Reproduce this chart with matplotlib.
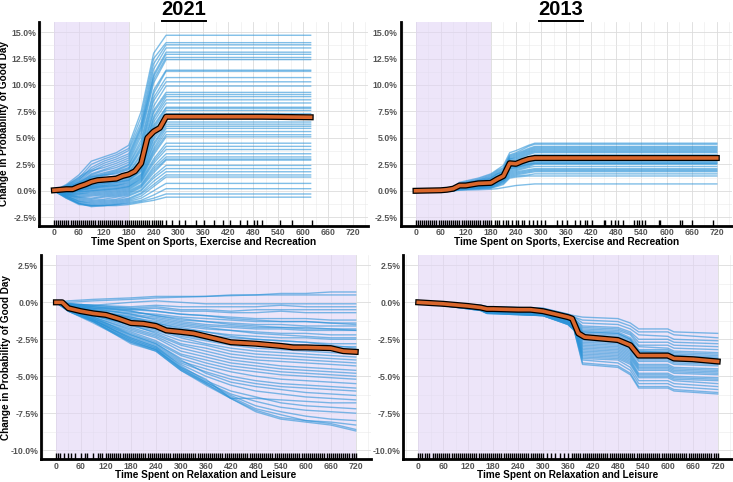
import matplotlib
matplotlib.use("Agg")
import matplotlib.pyplot as plt
import matplotlib.patheffects as pe
from matplotlib.lines import Line2D
from matplotlib.ticker import FuncFormatter, MultipleLocator

plt.rcParams["font.family"] = ["Liberation Sans", "DejaVu Sans"]

# ---------------- data ----------------
years = ["2021", "2013"]
sports_label = "Time Spent on Sports, Exercise and Recreation"
leisure_label = "Time Spent on Relaxation and Leisure"
ylabel = "Change in Probability of Good Day"

# 2021, sports: ICE curves at these minutes, flat after the last knot
sp21_knots = [0, 30, 60, 90, 120, 150, 180, 210, 240, 270]
sp21_end = 618
sp21_curves = [
    [0, 0.6, 1.5, 2.8, 3.2, 3.6, 4.3, 7.5, 13.0, 14.7],
    [0, 0.5, 1.2, 2.5, 3.0, 3.4, 4.0, 7.0, 12.5, 14.0],
    [0, 0.4, 1.0, 2.2, 2.8, 3.2, 3.8, 6.5, 12.0, 13.8],
    [0, 0.5, 1.3, 2.0, 2.6, 3.0, 3.5, 6.2, 11.5, 13.5],
    [0, 0.3, 0.9, 1.8, 2.4, 2.8, 3.3, 6.0, 11.0, 13.1],
    [0, 0.4, 1.1, 1.9, 2.2, 2.6, 3.1, 5.8, 10.8, 12.9],
    [0, 0.3, 0.8, 1.6, 2.0, 2.4, 2.9, 5.5, 10.5, 12.6],
    [0, 0.2, 0.7, 1.5, 1.9, 2.2, 2.7, 5.2, 10.2, 12.4],
    [0, 0.3, 0.8, 1.4, 1.7, 2.0, 2.5, 4.8, 9.5, 11.4],
    [0, 0.2, 0.6, 1.3, 1.6, 1.9, 2.4, 4.5, 9.2, 11.3],
    [0, 0.2, 0.7, 1.2, 1.5, 1.8, 2.2, 4.2, 8.8, 10.7],
    [0, 0.1, 0.5, 1.1, 1.4, 1.7, 2.1, 4.0, 8.5, 10.3],
    [0, 0.2, 0.6, 1.3, 1.5, 1.6, 2.0, 3.8, 8.0, 9.9],
    [0, 0.1, 0.4, 1.0, 1.2, 1.4, 1.8, 3.5, 7.6, 9.3],
    [0, 0.2, 0.5, 0.9, 1.1, 1.3, 1.7, 3.3, 7.4, 9.1],
    [0, 0.1, 0.3, 0.8, 1.0, 1.2, 1.6, 3.0, 7.0, 8.9],
    [0, 0.0, 0.4, 0.9, 1.1, 1.2, 1.5, 2.9, 6.8, 8.6],
    [0, 0.1, 0.3, 0.7, 0.9, 1.1, 1.4, 2.7, 6.5, 8.3],
    [0, 0.0, 0.2, 0.6, 0.8, 1.0, 1.3, 2.5, 6.2, 7.9],
    [0, 0.1, 0.3, 0.8, 0.9, 1.0, 1.3, 2.4, 6.0, 7.8],
    [0, 0.0, 0.2, 0.5, 0.7, 0.9, 1.2, 2.3, 5.8, 7.6],
    [0, -0.1, 0.1, 0.5, 0.7, 0.8, 1.1, 2.1, 5.5, 7.3],
    [0, 0.0, 0.2, 0.4, 0.6, 0.8, 1.0, 2.0, 5.3, 7.1],
    [0, -0.1, 0.1, 0.4, 0.5, 0.7, 1.0, 1.9, 5.0, 6.8],
    [0, 0.0, 0.1, 0.3, 0.5, 0.6, 0.9, 1.8, 4.8, 6.5],
    [0, -0.1, 0.0, 0.3, 0.4, 0.5, 0.8, 1.6, 4.5, 6.3],
    [0, -0.1, 0.1, 0.2, 0.4, 0.5, 0.7, 1.5, 4.3, 6.1],
    [0, -0.2, 0.0, 0.2, 0.3, 0.4, 0.6, 1.4, 4.0, 5.9],
    [0, -0.1, -0.1, 0.1, 0.2, 0.3, 0.5, 1.3, 3.8, 5.6],
    [0, -0.2, -0.1, 0.0, 0.1, 0.2, 0.4, 1.2, 3.6, 5.3],
    [0, -0.2, -0.2, 0.0, 0.1, 0.2, 0.4, 1.1, 3.4, 5.1],
    [0, -0.2, -0.3, -0.1, 0.0, 0.1, 0.3, 1.0, 3.0, 4.5],
    [0, -0.3, -0.3, -0.2, -0.1, 0.0, 0.2, 0.9, 2.8, 4.2],
    [0, -0.3, -0.4, -0.3, -0.2, -0.1, 0.1, 0.8, 2.6, 3.9],
    [0, -0.3, -0.5, -0.4, -0.3, -0.2, 0.0, 0.6, 2.3, 3.5],
    [0, -0.4, -0.6, -0.5, -0.4, -0.3, -0.1, 0.5, 2.1, 3.2],
    [0, -0.3, -0.6, -0.7, -0.5, -0.4, -0.2, 0.4, 1.9, 3.0],
    [0, -0.4, -0.7, -0.8, -0.6, -0.5, -0.3, 0.3, 1.7, 2.9],
    [0, -0.4, -0.8, -0.9, -0.8, -0.6, -0.4, 0.1, 1.4, 2.4],
    [0, -0.5, -0.9, -1.0, -0.9, -0.8, -0.5, 0.0, 1.2, 2.1],
    [0, -0.5, -1.0, -1.1, -1.0, -0.9, -0.7, -0.2, 0.9, 1.8],
    [0, -0.5, -1.0, -1.2, -1.1, -1.0, -0.8, -0.3, 0.6, 1.5],
    [0, -0.6, -1.1, -1.3, -1.2, -1.1, -0.9, -0.5, 0.4, 1.3],
    [0, -0.6, -1.2, -1.4, -1.3, -1.2, -1.0, -0.7, 0.0, 0.7],
    [0, -0.6, -1.2, -1.4, -1.4, -1.3, -1.1, -0.9, -0.4, 0.2],
    [0, -0.7, -1.2, -1.5, -1.4, -1.3, -1.2, -1.0, -0.7, -0.3],
    [0, -0.7, -1.3, -1.4, -1.4, -1.4, -1.3, -1.1, -0.9, -0.6],
]
sp21_pdp_x = [0, 15, 30, 45, 60, 75, 90, 105, 120, 135, 150, 165, 180, 195,
              210, 225, 240, 255, 270, 500, 618]
sp21_pdp_y = [0.05, 0.1, 0.15, 0.15, 0.4, 0.6, 0.85, 1.0, 1.05, 1.1, 1.15, 1.4,
              1.55, 1.85, 2.6, 5.0, 5.6, 5.95, 7.0, 7.0, 6.95]
sp21_rug = [0, 5, 10, 15, 20, 25, 30, 35, 40, 45, 50, 55, 60, 65, 70, 75, 80,
            85, 90, 95, 100, 105, 110, 115, 120, 125, 130, 135, 140, 145, 150,
            155, 160, 165, 170, 175, 180, 185, 190, 195, 200, 205, 210, 215,
            220, 225, 230, 235, 240, 245, 250, 255, 260, 270, 285, 300, 315,
            341, 362, 386, 406, 423, 449, 465, 482, 488, 502, 544, 573, 622]

# 2013, sports
sp13_knots = [0, 60, 90, 105, 150, 180, 195, 210, 225, 240, 270, 285]
sp13_end = 720
sp13_curves = [
    [0, 0.05, 0.3, 0.8, 1.2, 1.6, 2.0, 2.4, 3.6, 3.8, 4.3, 4.5],
    [0, 0.05, 0.3, 0.7, 1.1, 1.5, 1.9, 2.2, 3.4, 3.6, 4.2, 4.4],
    [0, 0.04, 0.25, 0.7, 1.0, 1.4, 1.8, 2.1, 3.3, 3.5, 4.0, 4.2],
    [0, 0.04, 0.25, 0.6, 1.0, 1.3, 1.7, 2.0, 3.2, 3.4, 3.9, 4.1],
    [0, 0.03, 0.2, 0.6, 0.9, 1.2, 1.6, 1.9, 3.1, 3.3, 3.8, 4.0],
    [0, 0.02, 0.2, 0.6, 0.9, 1.2, 1.6, 1.8, 3.0, 3.2, 3.7, 3.9],
    [0, 0.03, 0.2, 0.6, 0.9, 1.1, 1.5, 1.8, 3.0, 3.1, 3.6, 3.8],
    [0, 0.03, 0.2, 0.5, 0.8, 1.0, 1.4, 1.7, 2.9, 3.0, 3.5, 3.7],
    [0, 0.02, 0.2, 0.5, 0.8, 1.0, 1.3, 1.6, 2.8, 2.9, 3.4, 3.6],
    [0, 0.02, 0.15, 0.5, 0.7, 0.9, 1.2, 1.5, 2.7, 2.8, 3.2, 3.4],
    [0, 0.02, 0.15, 0.5, 0.7, 0.9, 1.2, 1.5, 2.6, 2.7, 3.1, 3.3],
    [0, 0.01, 0.15, 0.45, 0.65, 0.85, 1.15, 1.45, 2.6, 2.7, 3.1, 3.2],
    [0, 0.02, 0.15, 0.4, 0.6, 0.8, 1.1, 1.4, 2.5, 2.6, 3.0, 3.2],
    [0, 0.01, 0.1, 0.4, 0.6, 0.8, 1.1, 1.4, 2.5, 2.5, 2.9, 3.1],
    [0, 0.01, 0.1, 0.4, 0.6, 0.7, 1.0, 1.3, 2.4, 2.4, 2.8, 3.0],
    [0, 0.01, 0.1, 0.35, 0.55, 0.7, 1.0, 1.3, 2.3, 2.4, 2.8, 3.0],
    [0, 0.01, 0.1, 0.4, 0.5, 0.7, 1.0, 1.3, 2.3, 2.3, 2.7, 2.9],
    [0, 0.01, 0.1, 0.3, 0.5, 0.6, 0.9, 1.2, 2.2, 2.3, 2.6, 2.8],
    [0, 0.0, 0.1, 0.3, 0.5, 0.6, 0.9, 1.2, 2.1, 2.2, 2.5, 2.7],
    [0, 0.0, 0.1, 0.3, 0.45, 0.6, 0.85, 1.15, 2.1, 2.2, 2.5, 2.6],
    [0, 0.0, 0.05, 0.3, 0.4, 0.5, 0.8, 1.1, 2.0, 2.1, 2.4, 2.6],
    [0, 0.0, 0.05, 0.3, 0.4, 0.5, 0.8, 1.1, 1.9, 2.0, 2.3, 2.5],
    [0, 0.0, 0.05, 0.2, 0.3, 0.5, 0.7, 1.0, 1.8, 1.9, 2.2, 2.3],
    [0, 0.0, 0.05, 0.2, 0.3, 0.4, 0.7, 1.0, 1.7, 1.8, 2.0, 2.1],
    [0, 0.0, 0.0, 0.2, 0.3, 0.4, 0.6, 0.9, 1.6, 1.7, 1.9, 2.0],
    [0, 0.0, 0.0, 0.2, 0.3, 0.4, 0.6, 0.9, 1.5, 1.6, 1.8, 1.9],
    [0, 0.0, 0.0, 0.15, 0.25, 0.3, 0.5, 0.8, 1.4, 1.5, 1.7, 1.8],
    [0, 0.0, 0.0, 0.1, 0.2, 0.3, 0.5, 0.7, 1.3, 1.4, 1.5, 1.6],
    [0, 0.0, 0.0, 0.1, 0.2, 0.25, 0.4, 0.6, 1.2, 1.3, 1.4, 1.4],
    [0, 0.0, 0.0, 0.05, 0.1, 0.15, 0.2, 0.3, 0.4, 0.5, 0.6, 0.65],
]
sp13_pdp_x = [0, 60, 75, 90, 105, 120, 150, 180, 195, 210, 225, 240, 255, 270,
              285, 720]
sp13_pdp_y = [0.0, 0.05, 0.1, 0.2, 0.5, 0.5, 0.7, 0.75, 1.1, 1.4, 2.6, 2.55,
              2.8, 3.0, 3.1, 3.1]
sp13_rug = [0, 5, 10, 15, 20, 25, 30, 35, 40, 45, 50, 55, 60, 65, 70, 75, 80,
            85, 90, 95, 100, 105, 110, 115, 120, 125, 130, 135, 140, 145, 150,
            155, 160, 165, 170, 175, 180, 190, 195, 200, 210, 215, 220, 230,
            240, 245, 255, 260, 270, 280, 290, 300, 310, 338, 350, 362, 382,
            394, 404, 410, 422, 450, 454, 466, 477, 485, 497, 521, 529, 533,
            541, 549, 581, 585, 633, 637, 661, 712]

# 2021, relaxation and leisure
le_knots = [0, 30, 90, 180, 240, 300, 360, 420, 480, 540, 600, 660, 720]
le21_curves = [
    [0, 0.1, 0.2, 0.3, 0.4, 0.4, 0.4, 0.5, 0.5, 0.6, 0.6, 0.7, 0.7],
    [0, 0.0, 0.1, 0.2, 0.3, 0.35, 0.4, 0.45, 0.5, 0.5, 0.5, 0.5, 0.5],
    [0, -0.1, -0.2, 0.0, 0.1, 0.0, -0.1, -0.1, -0.1, -0.1, -0.1, -0.1, -0.1],
    [0, -0.1, -0.2, -0.3, -0.2, -0.3, -0.3, -0.3, -0.3, -0.2, -0.3, -0.3, -0.3],
    [0, -0.1, -0.3, -0.4, -0.3, -0.5, -0.5, -0.6, -0.5, -0.5, -0.5, -0.5, -0.5],
    [0, -0.2, -0.4, -0.5, -0.4, -0.6, -0.6, -0.7, -0.7, -0.6, -0.7, -0.7, -0.7],
    [0, -0.2, -0.3, -0.5, -0.6, -0.8, -0.9, -1.0, -1.1, -1.1, -1.1, -1.2, -1.2],
    [0, -0.2, -0.5, -0.7, -0.8, -1.0, -1.1, -1.2, -1.3, -1.3, -1.3, -1.4, -1.4],
    [0, -0.1, -0.2, -0.4, -0.6, -0.8, -0.9, -1.1, -1.2, -1.3, -1.3, -1.4, -1.5],
    [0, -0.1, -0.4, -0.6, -0.9, -1.1, -1.3, -1.4, -1.5, -1.5, -1.6, -1.6, -1.6],
    [0, -0.2, -0.5, -0.8, -1.0, -1.3, -1.5, -1.6, -1.7, -1.7, -1.8, -1.8, -1.8],
    [0, -0.1, -0.3, -0.6, -0.9, -1.2, -1.3, -1.5, -1.6, -1.7, -1.7, -1.8, -1.9],
    [0, -0.2, -0.6, -0.9, -1.1, -1.4, -1.6, -1.7, -1.8, -1.8, -1.9, -1.9, -1.9],
    [0, -0.3, -0.6, -1.0, -1.3, -1.6, -1.8, -1.9, -2.0, -2.1, -2.1, -2.2, -2.2],
    [0, -0.2, -0.4, -0.8, -1.2, -1.5, -1.7, -1.9, -2.1, -2.2, -2.3, -2.4, -2.4],
    [0, -0.2, -0.5, -1.1, -1.4, -1.8, -2.0, -2.2, -2.3, -2.4, -2.4, -2.5, -2.5],
    [0, -0.3, -0.7, -1.2, -1.5, -1.9, -2.2, -2.4, -2.5, -2.6, -2.7, -2.8, -2.8],
    [0, -0.3, -0.6, -1.1, -1.6, -2.0, -2.3, -2.6, -2.7, -2.8, -2.9, -3.0, -3.0],
    [0, -0.2, -0.6, -1.0, -1.4, -1.7, -2.0, -2.3, -2.5, -2.6, -2.7, -2.9, -3.1],
    [0, -0.3, -0.8, -1.3, -1.7, -2.1, -2.4, -2.7, -2.8, -2.9, -3.0, -3.1, -3.2],
    [0, -0.2, -0.7, -1.2, -1.8, -2.2, -2.5, -2.8, -2.9, -3.0, -3.1, -3.2, -3.3],
    [0, -0.3, -0.8, -1.4, -1.8, -2.3, -2.6, -2.9, -3.1, -3.2, -3.3, -3.4, -3.5],
    [0, -0.4, -0.9, -1.5, -1.9, -2.4, -2.8, -3.1, -3.3, -3.4, -3.5, -3.6, -3.7],
    [0, -0.3, -0.8, -1.6, -2.0, -2.6, -2.9, -3.3, -3.5, -3.6, -3.7, -3.8, -3.9],
    [0, -0.4, -0.9, -1.5, -2.1, -2.8, -3.1, -3.5, -3.7, -3.8, -3.9, -4.0, -4.1],
    [0, -0.3, -0.9, -1.7, -2.2, -2.9, -3.3, -3.7, -3.9, -4.0, -4.1, -4.2, -4.3],
    [0, -0.4, -1.0, -1.8, -2.3, -3.1, -3.5, -3.9, -4.1, -4.3, -4.4, -4.5, -4.6],
    [0, -0.4, -1.0, -1.9, -2.4, -3.3, -3.7, -4.1, -4.3, -4.5, -4.6, -4.7, -4.8],
    [0, -0.5, -1.1, -2.0, -2.6, -3.5, -3.9, -4.3, -4.5, -4.7, -4.8, -4.9, -5.0],
    [0, -0.4, -1.1, -2.1, -2.7, -3.6, -4.1, -4.5, -4.7, -4.9, -5.0, -5.1, -5.2],
    [0, -0.5, -1.2, -2.2, -2.8, -3.8, -4.3, -4.7, -5.0, -5.2, -5.3, -5.4, -5.5],
    [0, -0.5, -1.1, -2.3, -2.9, -4.0, -4.5, -5.0, -5.3, -5.5, -5.6, -5.7, -5.8],
    [0, -0.5, -1.2, -2.4, -3.0, -4.1, -4.7, -5.2, -5.5, -5.7, -5.8, -5.9, -6.0],
    [0, -0.4, -1.0, -2.2, -2.8, -3.9, -4.8, -5.4, -5.7, -5.9, -6.1, -6.2, -6.3],
    [0, -0.5, -1.2, -2.5, -3.1, -4.2, -5.0, -5.6, -6.0, -6.2, -6.4, -6.5, -6.6],
    [0, -0.5, -1.3, -2.6, -3.2, -4.4, -5.2, -6.5, -6.5, -6.6, -6.7, -6.8, -6.8],
    [0, -0.5, -1.2, -2.4, -3.0, -4.3, -5.3, -6.0, -6.4, -6.8, -7.0, -7.1, -7.2],
    [0, -0.6, -1.3, -2.6, -3.2, -4.5, -5.4, -6.2, -6.7, -7.1, -7.3, -7.4, -7.5],
    [0, -0.5, -1.2, -2.5, -3.1, -4.4, -5.4, -6.3, -7.0, -7.4, -7.7, -7.9, -8.0],
    [0, -0.6, -1.3, -2.7, -3.3, -4.6, -5.5, -6.4, -7.2, -7.6, -8.0, -8.1, -8.3],
    [0, -0.6, -1.4, -2.7, -3.2, -4.5, -5.5, -6.5, -7.3, -7.8, -8.0, -8.2, -8.6],
    [0, -0.6, -1.3, -2.8, -3.3, -4.6, -5.6, -6.5, -7.4, -7.9, -8.1, -8.3, -8.7],
]
le21_pdp_x = [0, 15, 30, 45, 60, 90, 120, 150, 180, 210, 240, 265, 300, 330,
              360, 390, 420, 480, 540, 570, 600, 660, 690, 720]
le21_pdp_y = [0.0, 0.0, -0.4, -0.5, -0.6, -0.75, -0.85, -1.1, -1.4, -1.45,
              -1.6, -1.9, -2.0, -2.1, -2.3, -2.5, -2.7, -2.8, -2.95, -3.05,
              -3.05, -3.1, -3.3, -3.35]

# 2013, relaxation and leisure
le13_knots = [0, 150, 165, 300, 360, 375, 395, 480, 510, 530, 600, 615, 720]
le13_curves = [
    [0, -0.2, -0.3, -0.4, -0.8, -0.9, -1.0, -1.1, -1.4, -1.8, -1.8, -2.0, -2.1],
    [0, -0.2, -0.3, -0.4, -0.8, -1.0, -1.2, -1.3, -1.6, -2.0, -2.0, -2.2, -2.4],
    [0, -0.25, -0.35, -0.45, -0.85, -1.0, -1.4, -1.5, -1.8, -2.2, -2.3, -2.5, -2.6],
    [0, -0.25, -0.35, -0.5, -0.9, -1.1, -1.6, -1.7, -2.0, -2.5, -2.5, -2.7, -2.8],
    [0, -0.3, -0.4, -0.5, -0.9, -1.1, -1.7, -1.8, -2.1, -2.7, -2.7, -2.9, -3.0],
    [0, -0.3, -0.4, -0.5, -0.95, -1.2, -1.8, -1.9, -2.2, -2.9, -2.9, -3.1, -3.2],
    [0, -0.3, -0.4, -0.55, -1.0, -1.2, -1.9, -2.0, -2.4, -3.0, -3.1, -3.3, -3.4],
    [0, -0.3, -0.45, -0.55, -1.0, -1.3, -2.0, -2.1, -2.5, -3.2, -3.2, -3.4, -3.5],
    [0, -0.35, -0.45, -0.6, -1.05, -1.3, -2.1, -2.2, -2.6, -3.3, -3.3, -3.5, -3.6],
    [0, -0.35, -0.5, -0.6, -1.1, -1.35, -2.2, -2.3, -2.7, -3.4, -3.4, -3.6, -3.7],
    [0, -0.3, -0.45, -0.6, -1.0, -1.25, -2.0, -2.1, -2.5, -3.3, -3.4, -3.6, -3.8],
    [0, -0.35, -0.5, -0.6, -1.1, -1.4, -2.3, -2.4, -2.8, -3.5, -3.5, -3.7, -3.8],
    [0, -0.35, -0.5, -0.65, -1.1, -1.4, -2.4, -2.5, -2.9, -3.6, -3.6, -3.8, -3.9],
    [0, -0.4, -0.5, -0.65, -1.15, -1.45, -2.5, -2.6, -3.0, -3.7, -3.7, -3.9, -4.0],
    [0, -0.4, -0.55, -0.7, -1.15, -1.5, -2.6, -2.7, -3.1, -3.8, -3.8, -4.0, -4.1],
    [0, -0.4, -0.55, -0.7, -1.2, -1.5, -2.7, -2.8, -3.2, -3.9, -3.9, -4.1, -4.2],
    [0, -0.4, -0.55, -0.7, -1.2, -1.55, -2.8, -2.9, -3.3, -4.0, -4.0, -4.2, -4.3],
    [0, -0.45, -0.6, -0.75, -1.25, -1.6, -2.9, -3.0, -3.4, -4.2, -4.2, -4.4, -4.5],
    [0, -0.45, -0.6, -0.75, -1.25, -1.6, -3.0, -3.1, -3.5, -4.3, -4.3, -4.5, -4.6],
    [0, -0.45, -0.6, -0.8, -1.3, -1.65, -3.1, -3.2, -3.6, -4.4, -4.4, -4.6, -4.7],
    [0, -0.45, -0.65, -0.8, -1.3, -1.7, -3.2, -3.3, -3.7, -4.5, -4.5, -4.7, -4.8],
    [0, -0.5, -0.65, -0.8, -1.35, -1.7, -3.3, -3.4, -3.8, -4.6, -4.6, -4.8, -4.9],
    [0, -0.5, -0.65, -0.85, -1.35, -1.75, -3.4, -3.5, -3.9, -4.8, -4.8, -5.0, -5.1],
    [0, -0.5, -0.7, -0.85, -1.4, -1.75, -3.5, -3.6, -4.0, -4.9, -4.9, -5.1, -5.2],
    [0, -0.5, -0.7, -0.85, -1.4, -1.8, -3.6, -3.7, -4.1, -5.0, -5.0, -5.2, -5.3],
    [0, -0.5, -0.7, -0.9, -1.45, -1.8, -3.7, -3.8, -4.2, -5.1, -5.1, -5.3, -5.5],
    [0, -0.55, -0.7, -0.9, -1.45, -1.85, -3.8, -3.9, -4.4, -5.3, -5.3, -5.5, -5.7],
    [0, -0.55, -0.75, -0.9, -1.5, -1.85, -3.9, -4.1, -4.6, -5.5, -5.5, -5.7, -5.9],
    [0, -0.55, -0.75, -0.9, -1.5, -1.9, -4.1, -4.3, -4.8, -5.7, -5.7, -5.9, -6.1],
    [0, -0.55, -0.75, -0.9, -1.5, -1.9, -4.2, -4.4, -4.9, -5.8, -5.8, -6.0, -6.2],
]
le13_pdp_x = [0, 60, 120, 150, 165, 180, 240, 270, 300, 330, 360, 370, 385,
              400, 420, 480, 510, 530, 600, 615, 660, 720]
le13_pdp_y = [0.0, -0.1, -0.25, -0.35, -0.45, -0.45, -0.5, -0.5, -0.6, -0.8,
              -1.0, -1.1, -2.1, -2.35, -2.4, -2.55, -2.9, -3.6, -3.6, -3.8,
              -3.85, -4.0]

le21_rug = [0, 5, 10, 20, 30, 35, 45, 60, 70, 75, 90, 100, 105, 110, 120, 125,
            130, 135, 140, 145, 150, 155, 160, 165, 170, 175, 180, 185, 190,
            195, 200, 205, 210, 215, 220, 225, 230, 235, 240, 245, 250, 255,
            260, 265, 270, 275, 280, 285, 290, 295, 300, 305, 310, 315, 320,
            325, 330, 335, 340, 345, 350, 355, 360, 365, 370, 375, 380, 385,
            390, 395, 400, 405, 410, 415, 420, 425, 430, 435, 440, 445, 450,
            455, 460, 465, 470, 475, 480, 485, 490, 495, 500, 505, 510, 515,
            520, 525, 530, 535, 540, 545, 550, 555, 560, 565, 570, 575, 580,
            585, 590, 595, 600, 605, 610, 615, 620, 625, 630, 635, 640, 645,
            650, 655, 660, 665, 670, 675, 680, 685, 690, 695, 700, 705, 710,
            715, 720]
le13_rug = [0, 5, 10, 15, 20, 25, 35, 40, 45, 50, 55, 60, 65, 70, 75, 80, 85,
            90, 95, 100, 105, 110, 115, 120, 125, 130, 135, 140, 145, 150,
            155, 160, 165, 170, 175, 180, 185, 190, 195, 200, 205, 210, 215,
            220, 225, 230, 235, 240, 245, 250, 255, 260, 265, 270, 275, 280,
            285, 290, 295, 300, 310, 320, 330, 340, 350, 360, 370, 375, 380,
            385, 390, 395, 400, 405, 410, 415, 420, 425, 430, 435, 440, 445,
            450, 455, 460, 465, 470, 475, 480, 485, 490, 495, 500, 505, 510,
            515, 520, 525, 530, 535, 540, 545, 550, 555, 560, 565, 570, 575,
            580, 585, 590, 595, 600, 605, 610, 615, 620, 625, 630, 635, 640,
            645, 650, 655, 660, 665, 670, 675, 680, 685, 690, 695, 700, 705,
            710, 715, 720]

# ---------------- style ----------------
ICE_COLOR = "#2b93d8"
PDP_COLOR = "#d9662b"
SHADE = "#e2d5f5"
TICK_COLOR = "#555555"


def pct(v, _pos):
    return f"{v:.1f}%"


def draw_panel(ax, knots, curves, end_x, pdp_x, pdp_y, rug, ylim, yticks,
               shade_to, xlabel, show_ylabel):
    ax.set_xlim(-36, 756)
    ax.set_ylim(*ylim)
    ax.axvspan(0, shade_to, color=SHADE, alpha=0.6, lw=0, zorder=1)

    for c in curves:
        xs = list(knots)
        ys = list(c)
        if end_x > knots[-1]:
            xs.append(end_x)
            ys.append(c[-1])
        ax.plot(xs, ys, color=ICE_COLOR, lw=1.0, alpha=0.6, zorder=2)

    ax.plot(pdp_x, pdp_y, color=PDP_COLOR, lw=2.6, zorder=4,
            solid_joinstyle="round",
            path_effects=[pe.Stroke(linewidth=4.4, foreground="black"),
                          pe.Normal()])

    # rug of observed times along the bottom
    ax.vlines(rug, 0, 0.03, transform=ax.get_xaxis_transform(),
              color="black", lw=1.0, zorder=5)

    ax.xaxis.set_major_locator(MultipleLocator(60))
    ax.xaxis.set_minor_locator(MultipleLocator(30))
    ax.set_yticks(yticks)
    ax.yaxis.set_minor_locator(MultipleLocator(1.25))
    ax.yaxis.set_major_formatter(FuncFormatter(pct))
    ax.grid(which="major", color="#dcdcdc", lw=0.6, zorder=0)
    ax.grid(which="minor", color="#eaeaea", lw=0.4, zorder=0)
    ax.set_axisbelow(True)

    for side in ("top", "right"):
        ax.spines[side].set_visible(False)
    for side in ("left", "bottom"):
        ax.spines[side].set_linewidth(2.0)
        ax.spines[side].set_color("black")

    ax.tick_params(which="both", length=0, pad=2, labelsize=6.3,
                   labelcolor=TICK_COLOR)
    for lab in ax.get_xticklabels() + ax.get_yticklabels():
        lab.set_fontweight("bold")

    ax.set_xlabel(xlabel, fontsize=7.2, fontweight="bold")
    ax.xaxis.set_label_coords(0.5, -0.054)
    if show_ylabel:
        ax.set_ylabel(ylabel, fontsize=7.2, fontweight="bold")
        width_px = ax.get_position().width * 733
        ax.yaxis.set_label_coords(-29.5 / width_px, 0.5)


fig = plt.figure(figsize=(7.33, 4.82), dpi=100)
ax_tl = fig.add_axes([0.0532, 0.5317, 0.4488, 0.4226])
ax_tr = fig.add_axes([0.5464, 0.5317, 0.4520, 0.4226])
ax_bl = fig.add_axes([0.0559, 0.0477, 0.4498, 0.4232])
ax_br = fig.add_axes([0.5502, 0.0477, 0.4493, 0.4232])

top_ylim = (-3.3, 15.95)
top_ticks = [-2.5, 0, 2.5, 5, 7.5, 10, 12.5, 15]
bot_ylim = (-10.6, 3.2)
bot_ticks = [-10, -7.5, -5, -2.5, 0, 2.5]

draw_panel(ax_tl, sp21_knots, sp21_curves, sp21_end, sp21_pdp_x, sp21_pdp_y,
           sp21_rug, top_ylim, top_ticks, 180, sports_label, True)
draw_panel(ax_tr, sp13_knots, sp13_curves, sp13_end, sp13_pdp_x, sp13_pdp_y,
           sp13_rug, top_ylim, top_ticks, 180, sports_label, False)
draw_panel(ax_bl, le_knots, le21_curves, 720, le21_pdp_x, le21_pdp_y,
           le21_rug, bot_ylim, bot_ticks, 720, leisure_label, True)
draw_panel(ax_br, le13_knots, le13_curves, 720, le13_pdp_x, le13_pdp_y,
           le13_rug, bot_ylim, bot_ticks, 720, leisure_label, False)

# underlined year titles
renderer = fig.canvas.get_renderer()
for year, xc in zip(years, [184 / 733, 561 / 733]):
    t = fig.text(xc, 1 - 9.5 / 482, year, ha="center", va="center",
                 fontsize=14.5, fontweight="bold")
    bb = t.get_window_extent(renderer).transformed(fig.transFigure.inverted())
    yl = bb.y0 - 1.8 / 482
    fig.add_artist(Line2D([bb.x0, bb.x1], [yl, yl], transform=fig.transFigure,
                          color="black", lw=1.4))

fig.savefig("out.png", dpi=100)
